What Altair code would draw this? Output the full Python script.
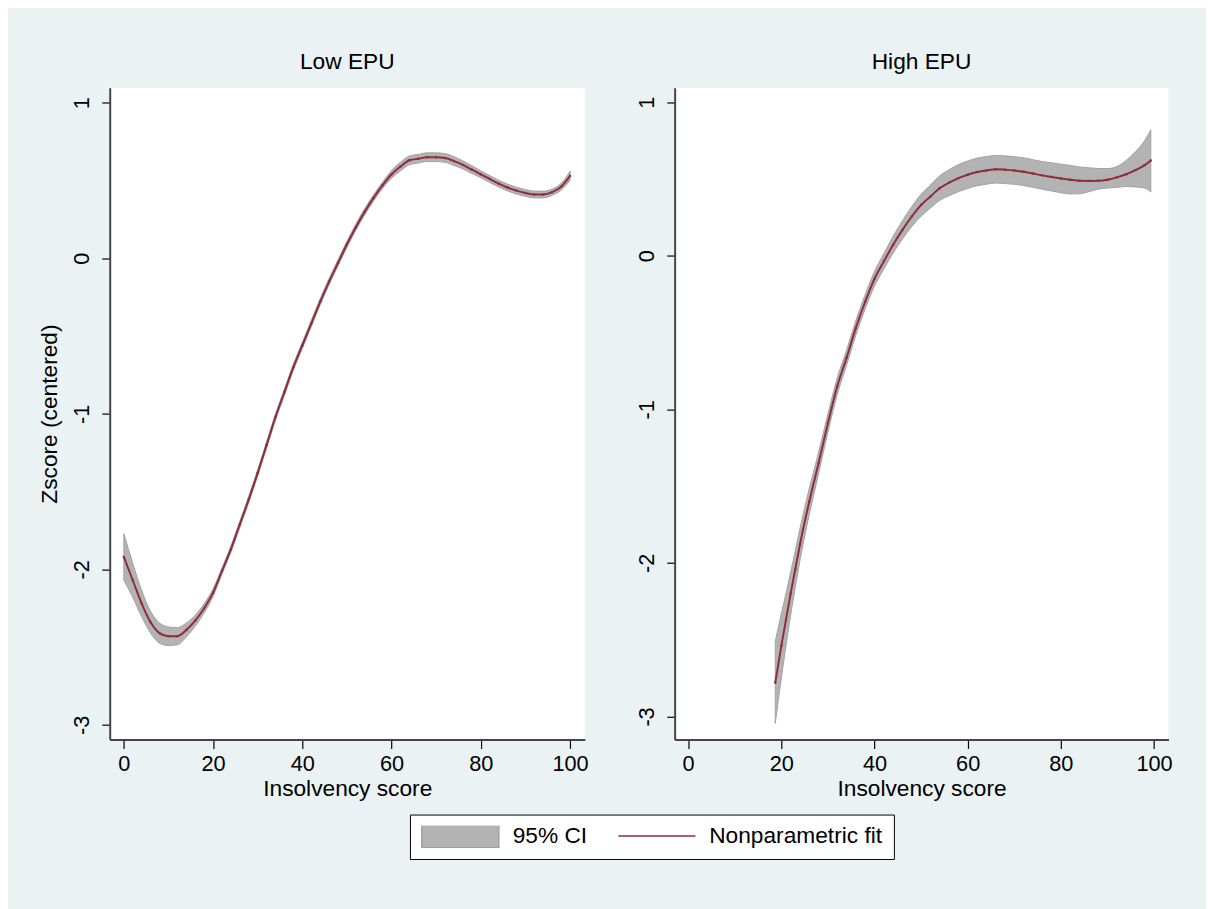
import altair as alt
import pandas as pd

# ---------------- data ----------------
low_x = [0, 2, 4, 6, 8, 10, 12, 14, 16, 18, 20, 22, 24, 26, 28, 30, 32, 34, 36, 38,
         40, 42, 44, 46, 48, 50, 52, 54, 56, 58, 60, 62, 64, 66, 68, 70, 72, 74, 76, 78,
         80, 82, 84, 86, 88, 90, 92, 94, 96, 98, 100]
low_fit = [-1.92, -2.07, -2.22, -2.34, -2.41, -2.43, -2.43, -2.39, -2.33, -2.25,
           -2.15, -2.01, -1.87, -1.71, -1.55, -1.38, -1.20, -1.02, -0.86, -0.70,
           -0.56, -0.42, -0.28, -0.15, -0.03, 0.09, 0.20, 0.30, 0.39, 0.47,
           0.54, 0.59, 0.63, 0.64, 0.65, 0.65, 0.645, 0.625, 0.60, 0.57,
           0.54, 0.51, 0.48, 0.455, 0.435, 0.42, 0.41, 0.41, 0.425, 0.46, 0.53]
low_lo = [-2.07, -2.18, -2.305, -2.41, -2.475, -2.49, -2.485, -2.435, -2.365, -2.28,
          -2.175, -2.03, -1.89, -1.73, -1.57, -1.40, -1.22, -1.04, -0.88, -0.72,
          -0.58, -0.44, -0.30, -0.17, -0.05, 0.07, 0.18, 0.28, 0.37, 0.45,
          0.515, 0.562, 0.602, 0.612, 0.622, 0.622, 0.617, 0.597, 0.574, 0.545,
          0.518, 0.488, 0.458, 0.433, 0.413, 0.398, 0.388, 0.388, 0.405, 0.438, 0.50]
low_hi = [-1.77, -1.96, -2.135, -2.27, -2.345, -2.37, -2.375, -2.345, -2.295, -2.22,
          -2.125, -1.99, -1.85, -1.69, -1.53, -1.36, -1.18, -1.00, -0.84, -0.68,
          -0.54, -0.40, -0.26, -0.13, -0.01, 0.11, 0.22, 0.32, 0.41, 0.49,
          0.565, 0.618, 0.658, 0.668, 0.678, 0.678, 0.673, 0.653, 0.626, 0.595,
          0.562, 0.532, 0.502, 0.477, 0.457, 0.442, 0.432, 0.432, 0.445, 0.482, 0.56]

high_x = [18.7, 20, 21, 22, 23, 24, 26, 28, 30, 32, 34, 36, 38, 40, 42, 44, 46, 48,
          50, 52, 54, 56, 58, 60, 62, 64, 66, 68, 70, 72, 74, 76, 78, 80, 82, 84,
          86, 88, 90, 92, 94, 96, 98, 99.3]
high_fit = [-2.78, -2.54, -2.37, -2.20, -2.04, -1.88, -1.60, -1.35, -1.09, -0.85,
            -0.665, -0.47, -0.30, -0.15, -0.037, 0.072, 0.168, 0.255,
            0.33, 0.385, 0.44, 0.475, 0.505, 0.527, 0.545, 0.555, 0.563, 0.56,
            0.555, 0.547, 0.535, 0.523, 0.513, 0.503, 0.495, 0.488,
            0.487, 0.488, 0.495, 0.51, 0.53, 0.557, 0.59, 0.62]
high_lo = [-3.045, -2.75, -2.54, -2.34, -2.16, -1.985, -1.685, -1.42, -1.15, -0.905,
           -0.715, -0.518, -0.347, -0.198, -0.087, 0.017, 0.108, 0.19,
           0.256, 0.31, 0.36, 0.39, 0.417, 0.437, 0.455, 0.465, 0.473, 0.47,
           0.465, 0.457, 0.445, 0.433, 0.421, 0.41, 0.402, 0.403,
           0.417, 0.433, 0.44, 0.445, 0.45, 0.447, 0.44, 0.415]
high_hi = [-2.51, -2.33, -2.20, -2.06, -1.92, -1.775, -1.515, -1.28, -1.03, -0.795,
           -0.615, -0.422, -0.253, -0.102, 0.013, 0.127, 0.228, 0.32,
           0.40, 0.46, 0.52, 0.56, 0.593, 0.617, 0.635, 0.645, 0.653, 0.65,
           0.645, 0.637, 0.625, 0.613, 0.605, 0.596, 0.588, 0.578,
           0.572, 0.568, 0.567, 0.58, 0.62, 0.677, 0.75, 0.82]

panel_titles = ["Low EPU", "High EPU"]
legend_labels = ["95% CI", "Nonparametric fit"]
x_ticks = [0, 20, 40, 60, 80, 100]
y_ticks = [-3, -2, -1, 0, 1]
x_title = "Insolvency score"
y_title = "Zscore (centered)"

# ---------------- styling ----------------
FONT = "Liberation Sans"
BG = "#EAF2F3"
BAND_FILL = "#b3b3b3"
BAND_EDGE = "#a2a2a2"
LINE_COLOR = "#8f2d3a"
RECT_PATH = "M-1,-0.295H1V0.295H-1Z"
LINE_PATH = "M-1,0H1"
PLAIN_LABEL = "datum.value + ''"


def panel(xs, fit, lo, hi, title, xdom, ydom, width, first):
    df = pd.DataFrame({"x": xs, "fit": fit, "lo": lo, "hi": hi})
    xenc = alt.X(
        "x:Q",
        scale=alt.Scale(domain=xdom, nice=False, zero=False),
        axis=alt.Axis(values=x_ticks, title=x_title, labelExpr=PLAIN_LABEL),
    )
    yaxis = alt.Axis(values=y_ticks, labelExpr=PLAIN_LABEL,
                     title=y_title if first else None)
    yscale = alt.Scale(domain=ydom, nice=False, zero=False)

    band = alt.Chart(df).mark_area(
        fill=BAND_FILL, stroke=BAND_EDGE, strokeWidth=1, interpolate="monotone"
    ).encode(
        x=xenc,
        y=alt.Y("lo:Q", scale=yscale, axis=yaxis),
        y2="hi:Q",
    )
    line = alt.Chart(df).mark_line(
        color=LINE_COLOR, strokeWidth=2, interpolate="monotone",
        point=alt.OverlayMarkDef(shape="square", size=5, filled=True, color=LINE_COLOR),
    ).encode(x=xenc, y=alt.Y("fit:Q", scale=yscale, axis=yaxis))

    return alt.layer(band, line).properties(
        width=width,
        height=660,
        view=alt.ViewBackground(fill="white", strokeWidth=0),
        title=alt.Title(
            title, font=FONT, fontSize=23, fontWeight="normal", color="black",
            anchor="middle", frame="group", baseline="alphabetic", offset=-4,
        ),
    )


left = panel(low_x, low_fit, low_lo, low_hi, panel_titles[0],
             [-3.16, 103.3], [-3.094, 1.097], 481, True)
right = panel(high_x, high_fit, high_lo, high_hi, panel_titles[1],
              [-2.9, 103.1], [-3.15, 1.094], 500, False)

# legend-only cell (no visible marks; its merged legend is placed by config)
leg_df = pd.DataFrame({"series": legend_labels})
legend_cell = alt.Chart(leg_df).mark_point(opacity=1).encode(
    fill=alt.Fill(
        "series:N",
        scale=alt.Scale(domain=legend_labels, range=[BAND_FILL, "transparent"]),
        legend=alt.Legend(title=None, symbolFillColor="white"),
    ),
    stroke=alt.Stroke(
        "series:N",
        scale=alt.Scale(domain=legend_labels, range=[BAND_EDGE, LINE_COLOR]),
        legend=alt.Legend(title=None, symbolFillColor="white"),
    ),
    shape=alt.Shape(
        "series:N",
        scale=alt.Scale(domain=legend_labels, range=[RECT_PATH, LINE_PATH]),
        legend=alt.Legend(title=None, symbolFillColor="white"),
    ),
).transform_filter(
    "datum.series == 'none'"
).properties(
    width=1, height=1, view=alt.ViewBackground(fill=BG, strokeWidth=0)
)

panels = alt.hconcat(left, right, spacing=48).resolve_scale(
    x="independent", y="independent"
)

chart = alt.vconcat(panels, legend_cell, spacing=10).properties(
    background=BG,
    padding={"left": 31, "top": 38, "right": 34, "bottom": 47},
).configure_view(
    fill="white", strokeWidth=0
).configure_axis(
    labelFont=FONT, labelFontSize=22, labelColor="black",
    titleFont=FONT, titleFontSize=23, titleFontWeight="normal", titleColor="black",
    tickColor="black", tickWidth=1.2, domainColor="#444444", domainWidth=2,
    grid=False, labelFlush=False,
).configure_axisX(
    tickSize=9, labelPadding=5, titlePadding=4,
).configure_axisY(
    tickSize=8, labelPadding=13, labelAngle=270, labelAlign="center",
    labelBaseline="alphabetic", titlePadding=10,
).configure_legend(
    orient="none", legendX=304, legendY=736, direction="horizontal",
    strokeColor="black", fillColor="white", padding=11,
    symbolSize=6084, clipHeight=21, symbolStrokeWidth=1.5, symbolOpacity=1,
    labelFont=FONT, labelFontSize=23, labelColor="black", labelOffset=13,
    labelLimit=400, columnPadding=30,
)

chart.save("out.html", embed_options={"renderer": "svg", "actions": False})
